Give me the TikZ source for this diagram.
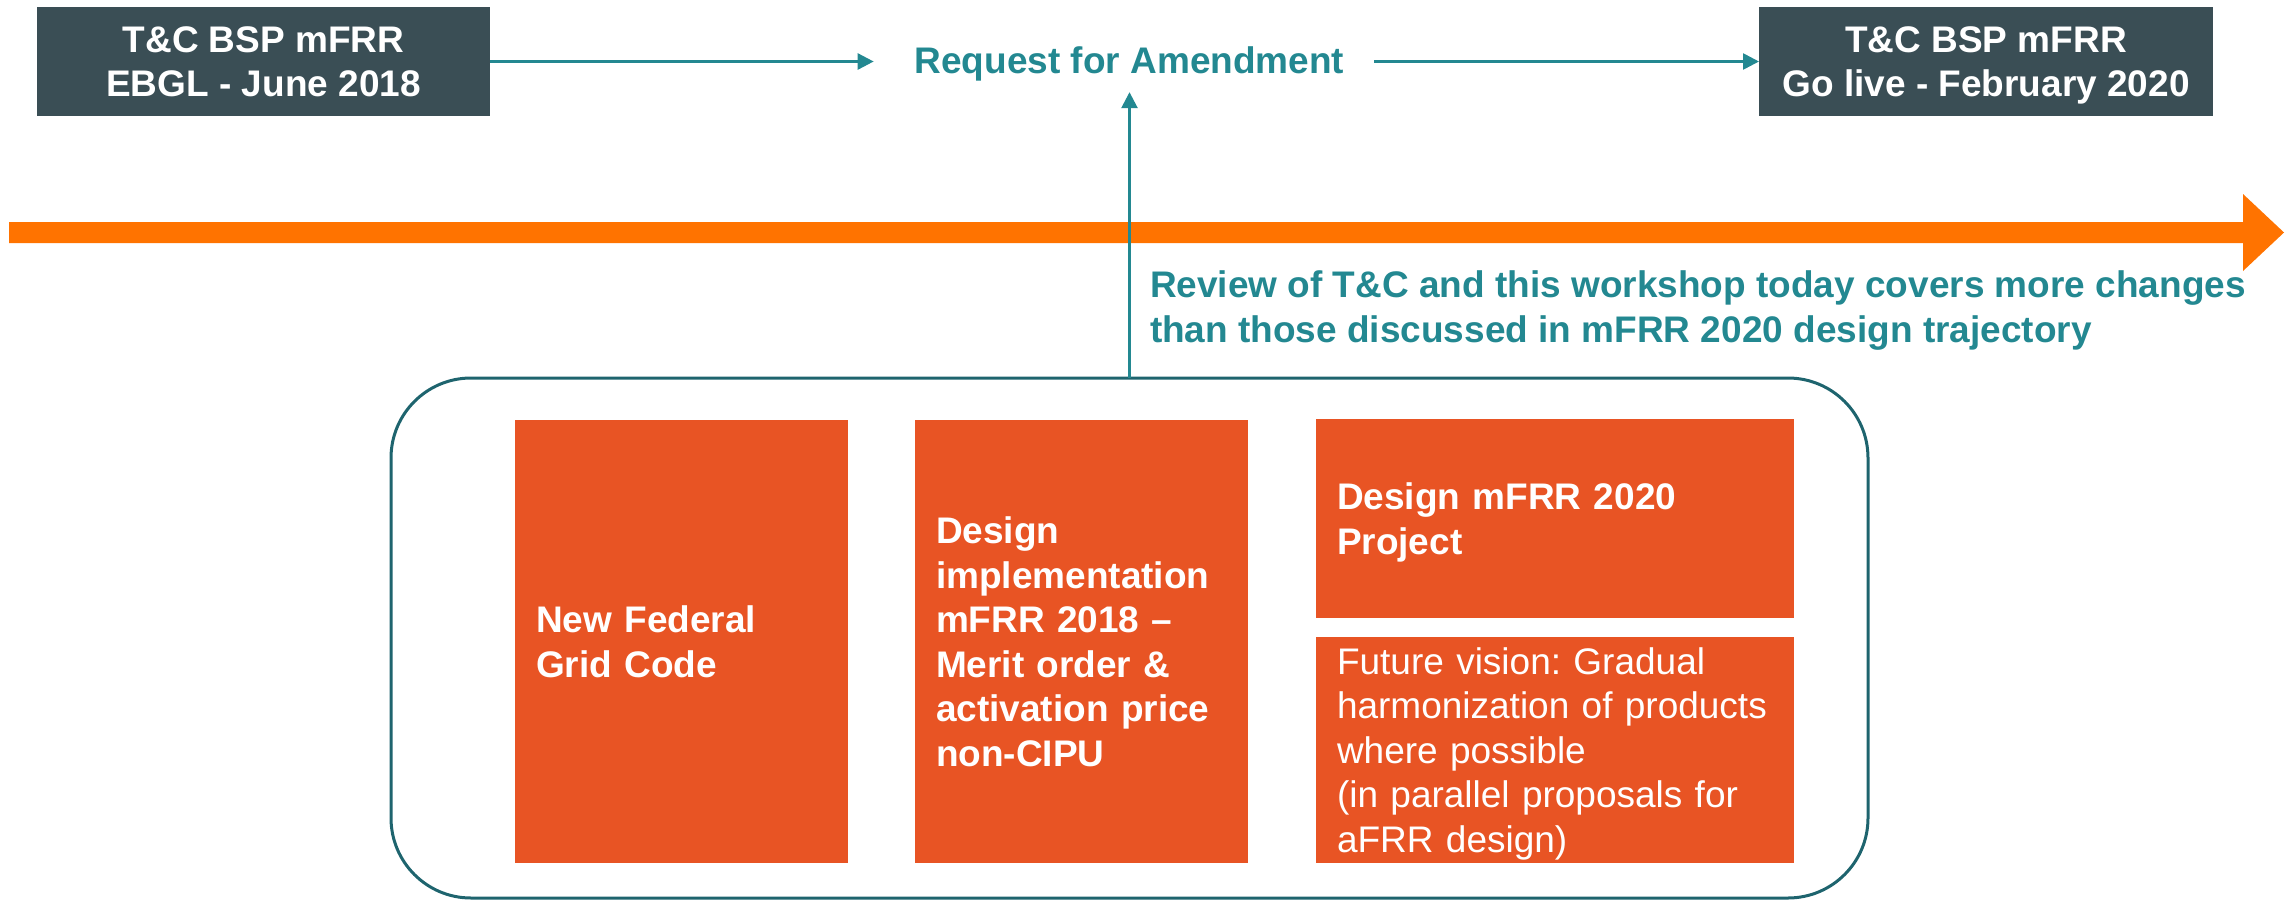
\documentclass[tikz,border=0pt]{standalone}
\usepackage{fontspec}
\setmainfont{Liberation Sans}
\usetikzlibrary{arrows.meta}
\definecolor{slate}{HTML}{3A4E55}
\definecolor{tealtxt}{HTML}{238891}
\definecolor{framecol}{HTML}{1E646E}
\definecolor{boxorange}{HTML}{E85424}
\definecolor{lineorange}{HTML}{FF7300}
\frenchspacing
\begin{document}
\begin{tikzpicture}[x=1pt,y=-1pt,
  bigfont/.style={font=\fontsize{37}{44.5}\selectfont\bfseries},
  darkbox/.style={fill=slate, text=white, bigfont, align=center, inner sep=0pt, outer sep=0pt,
    minimum width=453pt, minimum height=109pt, text depth=0pt, anchor=north west},
  obox/.style={fill=boxorange, text=white, bigfont, align=left, inner xsep=21pt, inner ysep=0pt,
    outer sep=0pt, text depth=#1*44.5pt, anchor=north west},
  tealtext/.style={text=tealtxt, bigfont, inner sep=0pt, outer sep=0pt},
  tarrow/.style={draw=tealtxt, line width=2.6pt, -{Triangle[length=16pt,width=16pt]}},
]
\useasboundingbox (0,0) rectangle (2295,900);

% timeline arrow
\fill[lineorange] (9,222) -- (2243,222) -- (2243,194) -- (2284,232.5) -- (2243,271) -- (2243,243) -- (9,243) -- cycle;

% top nodes
\node[darkbox] (b1) at (37,7) {T\&C BSP mFRR\\EBGL - June 2018};
\node[darkbox, minimum width=454pt] (b2) at (1759,7) {T\&C BSP mFRR\\Go live - February 2020};
\node[tealtext, anchor=base] (req) at (1129.5,73.5) {Request for Amendment};

\draw[tarrow, shorten >=41pt] (b1.east) -- (b1.east -| req.west);
\draw[tarrow, shorten <=30pt] (req.east |- b2.west) -- (b2.west);

% review text
\node[tealtext, align=left, text depth=0pt, anchor=south west] (rev) at (1150,342)
  {Review of T\&C and this workshop today covers more changes\\than those discussed in mFRR 2020 design trajectory};

% frame
\node[draw=framecol, line width=3pt, rounded corners=80pt, inner sep=0pt, outer sep=0pt,
  minimum width=1477pt, minimum height=520pt, anchor=north west] (frame) at (391,378) {};
\draw[tarrow, shorten >=11pt] (frame.north) -- (req.south);

% orange boxes
\node[obox=1, text width=291pt, minimum height=443pt] (g1) at (515,420) {New Federal\\Grid Code};
\node[obox=5, text width=291pt, minimum height=443pt] (g2) at (915,420)
  {Design\\implementation\\mFRR 2018 --\\Merit order \&\\activation price\\non-CIPU};
\node[obox=1, text width=436pt, minimum height=199pt] (g3) at (1316,419) {Design mFRR 2020\\Project};
\node[obox=4, text width=436pt, minimum height=226pt, font=\fontsize{37}{44.5}\selectfont] (g4) at (1316,637)
  {Future vision: Gradual\\harmonization of products\\where possible\\(in parallel proposals for\\aFRR design)};
\end{tikzpicture}
\end{document}
